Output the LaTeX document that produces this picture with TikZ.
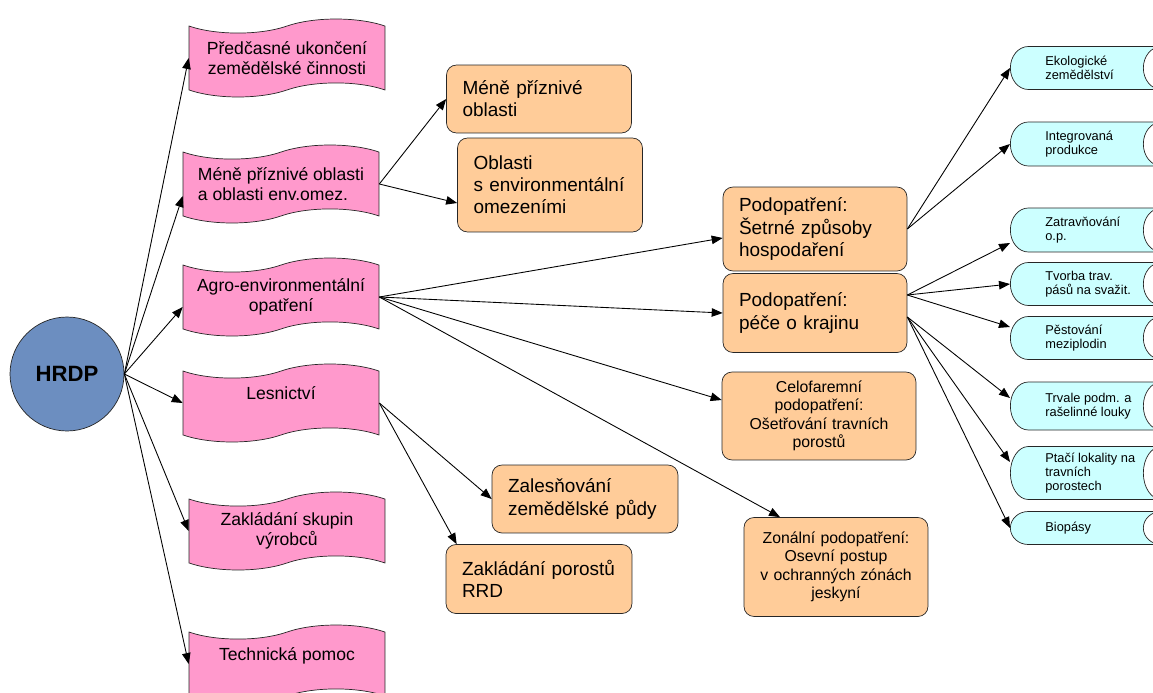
\documentclass[tikz,border=0pt]{standalone}
\usepackage{fontspec}
\setmainfont{Liberation Sans}
\usetikzlibrary{shapes.symbols,shapes.geometric,arrows.meta}

\definecolor{hrdpblue}{RGB}{108,142,192}
\definecolor{bannerpink}{RGB}{255,153,204}
\definecolor{measureorange}{RGB}{255,204,153}
\definecolor{optioncyan}{RGB}{204,255,255}

% vyska pro zakulaceni konce valce
\newcommand{\optstrut}{\rule{0pt}{0.6cm}}

\tikzset{
  banner/.style={tape, draw=black!85, fill=bannerpink, tape bend height=8pt,
    minimum width=3.92cm, minimum height=1.56cm, inner sep=0pt, align=center,
    font=\fontsize{10}{11.5}\selectfont},
  measure/.style={draw=black!85, fill=measureorange, rounded corners=0.2cm,
    inner xsep=0.32cm, inner ysep=0pt, align=left,
    font=\fontsize{10.8}{12.6}\selectfont},
  submeasure/.style={measure, align=center, font=\fontsize{9}{10.5}\selectfont},
  option/.style={cylinder, shape aspect=1.2, draw=black!85,
    cylinder uses custom fill, cylinder body fill=optioncyan, cylinder end fill=white,
    minimum height=3.38cm, inner sep=0pt, anchor=west},
  optiontext/.style={anchor=west, xshift=0.7cm, inner sep=0pt, align=left,
    font=\fontsize{7.3}{8}\selectfont},
  link/.style={-{Triangle[length=0.22cm,width=0.17cm]}, line width=0.5pt},
}

\begin{document}
\begin{tikzpicture}[x=0.02cm, y=-0.02cm]
	\useasboundingbox (0,0) rectangle (1153,693);

	% Program
	\node[circle, draw=black!85, fill=hrdpblue, minimum size=2.28cm,
	      font=\fontsize{12.6}{14}\selectfont\bfseries] (hrdp) at (67,374) {HRDP};

	% Osy / opatreni
	\node[banner] (predcasne) at (287,58) {Předčasné ukončení\\zemědělské činnosti};
	\node[banner, align=left] (mpo) at (281,184) {Méně příznivé oblasti\\a oblasti env.omez.};
	\node[banner] (agro) at (281,297) {Agro-environmentální\\opatření};
	\node[banner] (lesnictvi) at (281,403) {Lesnictví\\\mbox{}};
	\node[banner] (skupiny) at (287,531) {Zakládání skupin\\výrobců};
	\node[banner] (pomoc) at (287,664) {Technická pomoc\\\mbox{}};

	\draw[link] (hrdp.east) -- (predcasne.west);
	\draw[link] (hrdp.east) -- ([yshift=-0.24cm]mpo.west);
	\draw[link] (hrdp.east) -- ([yshift=-0.2cm]agro.west);
	\draw[link] (hrdp.east) -- (lesnictvi.west);
	\draw[link] (hrdp.east) -- (skupiny.west);
	\draw[link] (hrdp.east) -- (pomoc.west);

	% Mene priznive oblasti
	\node[measure, text width=3.06cm, minimum height=1.36cm] (mpo1) at (539,99) {Méně příznivé\\oblasti};
	\node[measure, text width=3.06cm, minimum height=1.88cm] (mpo2) at (550,185) {Oblasti\\s environmentální\\omezeními};
	\draw[link] (mpo.east) -- (mpo1.west);
	\draw[link] (mpo.east) -- ([yshift=-0.36cm]mpo2.west);

	% Podopatreni
	\node[measure, text width=3.04cm, minimum height=1.68cm] (setrne) at (815,229) {Podopatření:\\Šetrné způsoby\\hospodaření};
	\node[measure, text width=3.04cm, minimum height=1.58cm] (krajina) at (815,313) {Podopatření:\\péče o krajinu\\[0.2cm]};
	\node[submeasure, text width=3.24cm, minimum height=1.76cm] (celofarem) at (819,416) {Celofaremní\\podopatření:\\Ošetřování travních\\porostů};
	\node[submeasure, text width=3.04cm, minimum height=1.98cm] (zonalni) at (836,567) {Zonální podopatření:\\Osevní postup\\v ochranných zónách\\jeskyní};
	\draw[link] (agro.east) -- ([yshift=-0.18cm]setrne.west);
	\draw[link] (agro.east) -- (krajina.west);
	\draw[link] (agro.east) -- ([yshift=0.32cm]celofarem.west);
	\draw[link] (agro.east) -- ([xshift=-1.12cm]zonalni.north);

	% Lesnictvi
	\node[measure, text width=3.08cm, minimum height=1.36cm] (zalesnovani) at (585,499) {Zalesňování\\zemědělské půdy};
	\node[measure, text width=3.08cm, minimum height=1.38cm] (rrd) at (539,579) {Zakládání porostů\\RRD};
	\draw[link] (lesnictvi.east) -- (zalesnovani.west);
	\draw[link] (lesnictvi.east) -- ([xshift=0.22cm]rrd.north west);

	% Varianty
	\node[option, minimum width=0.86cm, label={[optiontext]west:{Ekologické\\zemědělství}}] (eko) at (1010,68) {\optstrut};
	\node[option, minimum width=0.88cm, label={[optiontext]west:{Integrovaná\\produkce}}] (integ) at (1010,144) {\optstrut};
	\node[option, minimum width=0.88cm, label={[optiontext]west:{Zatravňování\\o.p.}}] (zatrav) at (1010,230) {\optstrut};
	\node[option, minimum width=0.86cm, label={[optiontext]west:{Tvorba trav.\\pásů na svažit.}}] (tvorba) at (1010,284) {\optstrut};
	\node[option, minimum width=0.86cm, label={[optiontext]west:{Pěstování\\meziplodin}}] (pestovani) at (1010,338) {\optstrut};
	\node[option, minimum width=0.96cm, label={[optiontext]west:{Trvale podm. a\\rašelinné louky}}] (trvale) at (1010,406) {\optstrut};
	\node[option, minimum width=1.06cm, label={[optiontext]west:{Ptačí lokality na\\travních\\porostech}}] (ptaci) at (1010,473) {\optstrut};
	\node[option, minimum width=0.66cm, label={[optiontext]west:{Biopásy}}] (biopasy) at (1010,528) {\optstrut};

	\draw[link] (setrne.east) -- (eko.west);
	\draw[link] (setrne.east) -- (integ.west);
	\draw[link] ([yshift=0.36cm]krajina.east) -- ([yshift=-0.26cm]zatrav.west);
	\draw[link] ([yshift=0.36cm]krajina.east) -- (tvorba.west);
	\draw[link] ([yshift=0.36cm]krajina.east) -- ([yshift=0.22cm]pestovani.west);
	\draw[link] ([yshift=-0.08cm]krajina.east) -- ([yshift=0.16cm]trvale.west);
	\draw[link] ([yshift=-0.08cm]krajina.east) -- ([yshift=0.22cm]ptaci.west);
	\draw[link] ([yshift=-0.08cm]krajina.east) -- (biopasy.west);
\end{tikzpicture}
\end{document}
